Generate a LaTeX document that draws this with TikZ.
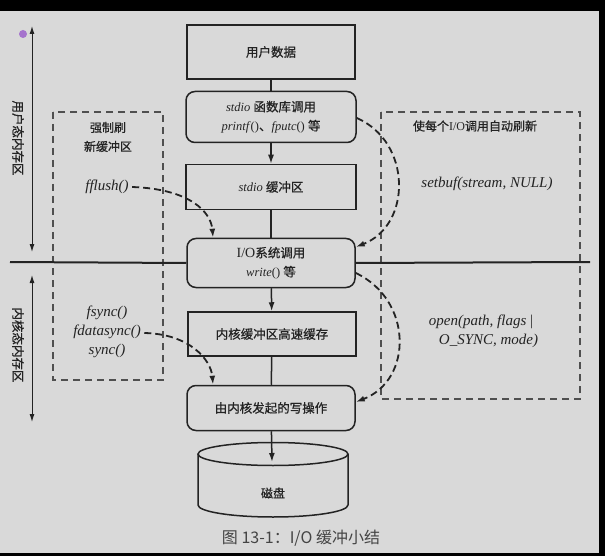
\documentclass[tikz,border=0pt]{standalone}
\usepackage{fontspec}
\setmainfont{Liberation Serif}
\newfontfamily\cjk{Noto Sans CJK SC}[FakeBold=0.8]
\newfontfamily\cjkcap{Noto Sans CJK SC}
\usepackage{xcolor}
\usetikzlibrary{arrows.meta}
\definecolor{bggray}{RGB}{217,217,217}
\definecolor{ink}{RGB}{35,35,35}
\definecolor{dotviolet}{RGB}{165,115,205}
\newcommand{\zh}[1]{{\cjk #1}}

\begin{document}
\begin{tikzpicture}[x=1pt, y=-1pt,
        box/.style={draw=ink, line width=1.5pt, minimum width=168pt, minimum height=46pt, align=center, font=\fontsize{12.5}{19}\selectfont, text=ink},
        rbox/.style={box, rounded corners=9pt},
        note/.style={align=center, font=\fontsize{12}{19}\selectfont, text=ink},
        fn/.style={note, font=\fontsize{15}{19}\selectfont},
        fwd/.style={-{Latex[length=9pt,width=6pt]}, line width=1.5pt, draw=ink},
        flush/.style={-{Latex[length=9pt,width=6pt]}, line width=1.8pt, draw=ink, dash pattern=on 7pt off 4pt},
        frame/.style={draw=ink!80, line width=1.1pt, dash pattern=on 7pt off 5pt},
        side/.style={<->, >={Latex[length=8pt,width=5pt]}, line width=1pt, draw=ink}]
    % page and margins
    \fill[black] (0,0) rectangle (605,556);
    \fill[bggray] (0,11) rectangle (599,553);
    \fill[dotviolet] (23,34) circle [radius=4pt];

    % dashed side boxes
    \draw[frame] (53,112) rectangle (163,380);
    \draw[frame] (381,112) rectangle (580,399);

    % main column
    \node[box, minimum height=54pt] (user) at (271,52) {\zh{用户数据}};
    \node[rbox, minimum width=170pt, minimum height=51pt] (lib) at (271,117) {\textit{stdio} \zh{函数库调用}\\\textit{printf}()\zh{、}\textit{fputc}() \zh{等}};
    \node[box, minimum width=170pt, minimum height=45pt] (buf) at (271,187) {\textit{stdio} \zh{缓冲区}};
    \node[rbox, minimum height=49pt, fill=bggray] (sys) at (271,263) {{\fontsize{14}{19}\selectfont I/O}\zh{系统调用}\\\textit{write}() \zh{等}};
    \node[box, minimum height=44pt] (kbuf) at (272,334) {\zh{内核缓冲区高速缓存}};
    \node[rbox, minimum height=45pt] (wop) at (271,408) {\zh{由内核发起的写操作}};

    % disk
    \coordinate (disktop) at (273,454);
    \coordinate (diskhit) at (272,462);
    \draw[ink, line width=1.5pt] (disktop) ellipse [x radius=75pt, y radius=11.5pt];
    \draw[ink, line width=1.5pt] (198,454) -- (198,505) arc [start angle=180, end angle=360, x radius=75pt, y radius=12pt] -- (348,454);
    \node[font=\fontsize{12}{14}\selectfont, text=ink] (disk) at (273,493) {\zh{磁盘}};

    \draw[ink, line width=1.5pt] (user) -- (lib);
    \draw[fwd] (lib) -- (buf);
    \draw[ink, line width=1.5pt] (buf) -- (sys);
    \draw[fwd] (sys) -- (kbuf);
    \draw[ink, line width=1.5pt] (kbuf) -- (wop);
    \draw[fwd] (wop) -- (diskhit);

    % user / kernel split
    \coordinate (splitl) at (10,262);
    \coordinate (splitr) at (590,262);
    \draw[ink, line width=2pt] (splitl) -- (sys.west);
    \draw[ink, line width=2pt] (sys.east) -- (splitr);

    \coordinate (utop) at (32,26);
    \coordinate (ubot) at (32,252);
    \coordinate (ktop) at (32,275);
    \coordinate (kbot) at (32,422);
    \draw[side] (utop) -- (ubot);
    \draw[side] (ktop) -- (kbot);
    \node[rotate=-90, font=\fontsize{12.5}{14}\selectfont, text=ink] (ulabel) at (18,138) {\zh{用户态内存区}};
    \node[rotate=-90, font=\fontsize{12.5}{14}\selectfont, text=ink] (klabel) at (18,345) {\zh{内核态内存区}};

    % left notes
    \node[note] (force) at (108,137) {\zh{强制刷}\\\zh{新缓冲区}};
    \node[fn] (ffl) at (107,187) {\textit{fflush()}};
    \node[fn] (fsy) at (107,332) {\textit{fsync()}\\\textit{fdatasync()}\\\textit{sync()}};

    % right notes
    \node[note] (auto) at (475,126) {\zh{使每个}I/O\zh{调用自动刷新}};
    \node[fn] (setb) at (487,184) {\textit{setbuf(stream, NULL)}};
    \node[fn] (opn) at (481,331) {\textit{open(path, flags} |\\\hspace*{1em}\textit{O\_SYNC, mode)}};

    % flush paths
    \draw[flush] (ffl.east) .. controls (190,189) and (211,212) .. ([xshift=-58pt]sys.north);
    \draw[flush] ([yshift=-1pt]fsy.east) .. controls (190,334) and (211,360) .. ([xshift=-58pt]wop.north);
    \draw[flush] ([yshift=-1pt]lib.east) .. controls (412,142) and (412,225) .. ([yshift=16pt]sys.east);
    \draw[flush] ([yshift=-10pt]sys.east) .. controls (413,300) and (413,380) .. ([yshift=6pt]wop.east);

    % caption
    \node[font=\cjkcap\fontsize{16}{18}\selectfont, text=ink!85] (cap) at (301,538) {图 13-1：I/O 缓冲小结};
\end{tikzpicture}
\end{document}
